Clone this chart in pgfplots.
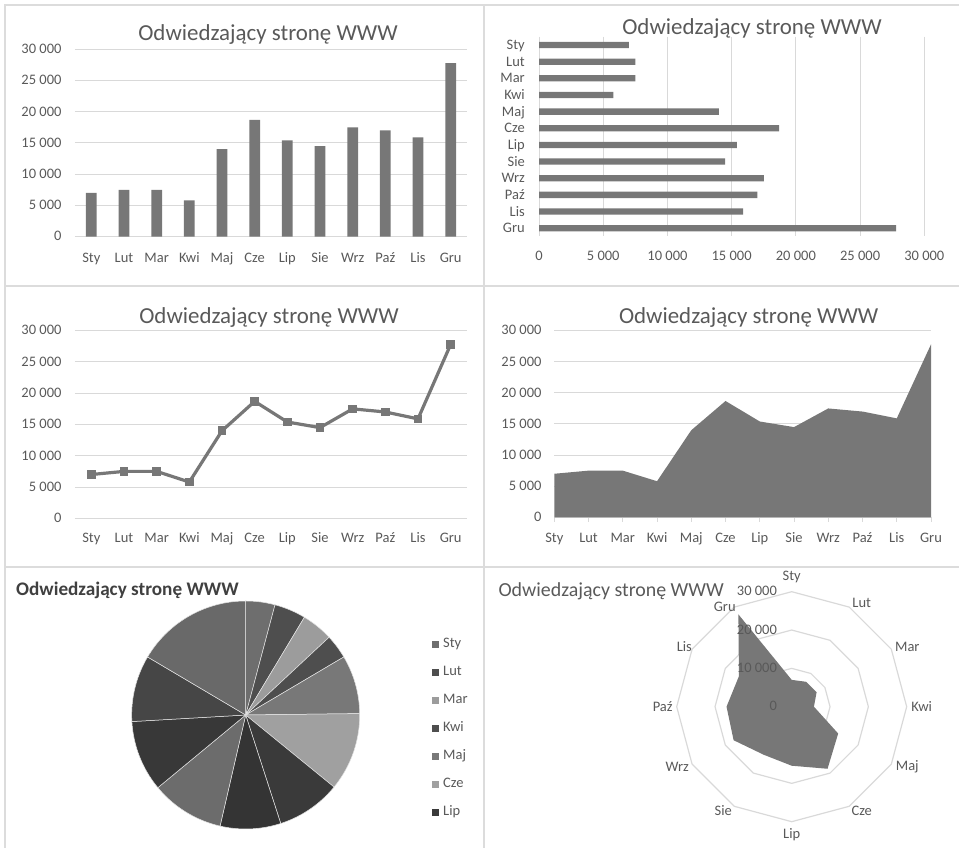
\documentclass[border=0pt]{standalone}
\usepackage{fontspec}
\setmainfont{Carlito}
\usepackage{pgfplots}
\pgfplotsset{compat=1.18}
\usepackage{pgfplotstable}

\definecolor{txt}{HTML}{595959}
\definecolor{gridc}{HTML}{D9D9D9}
\definecolor{framec}{HTML}{DCDCDC}
\definecolor{ser}{HTML}{777777}
\definecolor{pietitle}{HTML}{404040}
\definecolor{pie0}{HTML}{6E6E6E}
\definecolor{pie1}{HTML}{4E4E4E}
\definecolor{pie2}{HTML}{9C9C9C}
\definecolor{pie3}{HTML}{4E4E4E}
\definecolor{pie4}{HTML}{787878}
\definecolor{pie5}{HTML}{A0A0A0}
\definecolor{pie6}{HTML}{3A3A3A}
\definecolor{pie7}{HTML}{343434}
\definecolor{pie8}{HTML}{6C6C6C}
\definecolor{pie9}{HTML}{383838}
\definecolor{pie10}{HTML}{464646}
\definecolor{pie11}{HTML}{696969}

\pgfplotstableread{
i v ang
0 7000 90
1 7500 60
2 7500 30
3 5800 0
4 14000 -30
5 18700 -60
6 15400 -90
7 14500 -120
8 17500 -150
9 17000 -180
10 15900 -210
11 27800 -240
}\data

% cumulative sums for the pie
\def\tmpsum{0}
\pgfplotsforeachungrouped \k in {0,1,2,3,4,5,6,7,8,9,10,11}{%
  \pgfplotstablegetelem{\k}{v}\of\data
  \expandafter\xdef\csname cA\k\endcsname{\tmpsum}%
  \xdef\tmpsum{\the\numexpr\tmpsum+\pgfplotsretval\relax}%
  \expandafter\xdef\csname cB\k\endcsname{\tmpsum}%
}
\let\total\tmpsum
\pgfplotsforeachungrouped \k in {0,1,2,3,4,5,6,7,8,9,10,11}{%
  \edef\tmpx{\the\numexpr3600*\csname cA\k\endcsname/\total\relax}%
  \pgfmathsetmacro\tmpa{90-\tmpx/10}%
  \expandafter\xdef\csname sA\k\endcsname{\tmpa}%
  \edef\tmpx{\the\numexpr3600*\csname cB\k\endcsname/\total\relax}%
  \pgfmathsetmacro\tmpa{90-\tmpx/10}%
  \expandafter\xdef\csname sB\k\endcsname{\tmpa}%
}

\newcommand\tickfont{\fontsize{14.5}{17}\selectfont}
\newcommand\titlefont{\fontsize{22.9}{27}\selectfont}

\pgfplotsset{
  base/.style={scale only axis, anchor=south west, axis line style={draw=none},
    tick style={draw=none}, major tick length=0pt,
    scaled x ticks=false, scaled y ticks=false,
    tick label style={font=\tickfont, text=txt, inner sep=0pt},
    grid style={draw=gridc, line width=1pt}, clip=false},
  yval/.style={ymin=0, ymax=30000, ytick={0,5000,10000,15000,20000,25000,30000},
    yticklabels={0,5 000,10 000,15 000,20 000,25 000,30 000}, ymajorgrids},
  mon/.style={xtick={0,1,...,11},
    xticklabels={Sty,Lut,Mar,Kwi,Maj,Cze,Lip,Sie,Wrz,Paź,Lis,Gru}},
}

\begin{document}
\begin{tikzpicture}
\path[use as bounding box] (0,0) rectangle (959pt,848pt);
\draw[framec, line width=2pt] (5pt,0) -- (5pt,843pt) -- (959pt,843pt);
\draw[framec, line width=2pt] (483.5pt,0) -- (483.5pt,843pt);
\draw[framec, line width=2pt] (5pt,562pt) -- (959pt,562pt);
\draw[framec, line width=2pt] (5pt,280.5pt) -- (959pt,280.5pt);

% Panel 1: columns
\begin{axis}[base, yval, mon, at={(75pt,611.3pt)}, width=392pt, height=187.4pt,
  xmin=-0.5, xmax=11.5, ybar, bar width=10.7pt,
  yticklabel style={anchor=base east, xshift=-13.3pt, yshift=-4.3pt},
  xticklabel style={anchor=base, yshift=-26.3pt}]
\addplot[fill=ser, draw=none] table[x=i, y=v]{\data};
\end{axis}

% Panel 2: horizontal bars
\begin{axis}[base, at={(539pt,611.5pt)}, width=385.3pt, height=199.8pt,
  xmin=0, xmax=30000, xtick={0,5000,10000,15000,20000,25000,30000},
  xticklabels={0,5 000,10 000,15 000,20 000,25 000,30 000}, xmajorgrids,
  ymin=-0.5, ymax=11.5, y dir=reverse, ytick={0,1,...,11},
  yticklabels={Sty,Lut,Mar,Kwi,Maj,Cze,Lip,Sie,Wrz,Paź,Lis,Gru},
  xbar, bar width=6.3pt,
  yticklabel style={anchor=base east, xshift=-14pt, yshift=-4.5pt},
  xticklabel style={anchor=base, yshift=-24.5pt}]
\addplot[fill=ser, draw=none] table[x=v, y=i]{\data};
\end{axis}

% Panel 3: line
\begin{axis}[base, yval, mon, at={(75pt,329.7pt)}, width=392pt, height=187.6pt,
  xmin=-0.5, xmax=11.5,
  yticklabel style={anchor=base east, xshift=-13.3pt, yshift=-4.3pt},
  xticklabel style={anchor=base, yshift=-24pt}]
\addplot[color=ser, line width=3.2pt, line join=round, mark=square*, mark size=3.8pt,
  mark options={fill=ser, draw=ser, line width=0pt}] table[x=i, y=v]{\data};
\end{axis}

% Panel 4: area
\begin{axis}[base, yval, mon, at={(554.3pt,330.7pt)}, width=376.7pt, height=186.6pt,
  xmin=0, xmax=11, tick align=outside, major tick length=4.5pt,
  xtick style={draw=gridc, line width=1pt}, ytick style={draw=none},
  xtick pos=bottom, ytick pos=left,
  yticklabel style={anchor=base east, xshift=-8.1pt, yshift=-4.3pt},
  xticklabel style={anchor=base, yshift=-20.5pt}]
\addplot[fill=ser, draw=none] table[x=i, y=v]{\data} \closedcycle;
\end{axis}

% Panel 5: pie
\begin{axis}[scale only axis, hide axis, at={(245.7pt,133pt)}, anchor=center,
  width=228pt, height=228pt, xmin=-1, xmax=1, ymin=-1, ymax=1, clip=false,
  legend style={at={(1.304,0.855)}, anchor=north west, draw=none, fill=none,
    font=\tickfont, text=txt, row sep=12pt,
    nodes={inner sep=1.5pt, text height=10pt, text depth=3pt},
    /tikz/every odd column/.style={column sep=2.5pt}},
  legend cell align=left,
  legend image code/.code={\path[#1, draw=none] (0pt,-3.5pt) rectangle (7pt,3.5pt);}]
\pgfplotsinvokeforeach{0,1,2,3,4,5,6,7,8,9,10,11}{%
  \addplot[fill=pie#1, draw=white!80!gray, line width=0.5pt,
    domain={\csname sB#1\endcsname}:{\csname sA#1\endcsname}, samples=40]
    ({cos(x)},{sin(x)}) -- (axis cs:0,0) -- cycle;
}
\legend{Sty,Lut,Mar,Kwi,Maj,Cze,Lip}
\end{axis}

% Panel 6: radar
\begin{axis}[scale only axis, hide axis, at={(791.7pt,141.3pt)}, anchor=center,
  width=230pt, height=230pt, xmin=-30000, xmax=30000, ymin=-30000, ymax=30000,
  clip=false]
\addplot[draw=gridc, line width=1.2pt, data cs=polar] table[x=ang, y expr=10000]{\data} -- cycle;
\addplot[draw=gridc, line width=1.2pt, data cs=polar] table[x=ang, y expr=20000]{\data} -- cycle;
\addplot[draw=gridc, line width=1.2pt, data cs=polar] table[x=ang, y expr=30000]{\data} -- cycle;
\addplot[fill=ser, draw=none, data cs=polar] table[x=ang, y=v]{\data} -- cycle;
\node[anchor=base east, font=\tickfont, text=txt, inner sep=0pt, yshift=-4.3pt] at (axis cs:-3800,0) {0};
\node[anchor=base east, font=\tickfont, text=txt, inner sep=0pt, yshift=-4.3pt] at (axis cs:-3800,10000) {10 000};
\node[anchor=base east, font=\tickfont, text=txt, inner sep=0pt, yshift=-4.3pt] at (axis cs:-3800,20000) {20 000};
\node[anchor=base east, font=\tickfont, text=txt, inner sep=0pt, yshift=-4.3pt] at (axis cs:-3800,30000) {30 000};
\end{axis}
\foreach \dx/\dy/\m in {0/130/Sty, 70/103.4/Lut, 115.6/60/Mar, 130/0/Kwi, 115.6/-60/Maj,
  70/-104/Cze, 0/-128/Lip, -68.4/-104/Sie, -114.4/-60/Wrz, -129/0/Paź, -107.4/60/Lis, -67/100/Gru}{
  \node[font=\tickfont, text=txt, inner sep=0pt] at ([xshift=\dx pt, yshift=\dy pt]791.7pt,141.3pt) {\m};
}

% Titles
\node[anchor=base, font=\titlefont, text=txt] at (268pt,807pt) {Odwiedzający stronę WWW};
\node[anchor=base, font=\titlefont, text=txt] at (752pt,813pt) {Odwiedzający stronę WWW};
\node[anchor=base, font=\titlefont, text=txt] at (269pt,524.7pt) {Odwiedzający stronę WWW};
\node[anchor=base, font=\titlefont, text=txt] at (748.7pt,524.7pt) {Odwiedzający stronę WWW};
\node[anchor=base west, inner sep=0pt, font=\fontsize{19.2}{23}\selectfont\bfseries, text=pietitle] at (16pt,252.3pt) {Odwiedzający stronę WWW};
\node[anchor=base west, inner sep=0pt, font=\fontsize{19.9}{24}\selectfont, text=txt] at (498.3pt,251.5pt) {Odwiedzający stronę WWW};
\end{tikzpicture}
\end{document}
